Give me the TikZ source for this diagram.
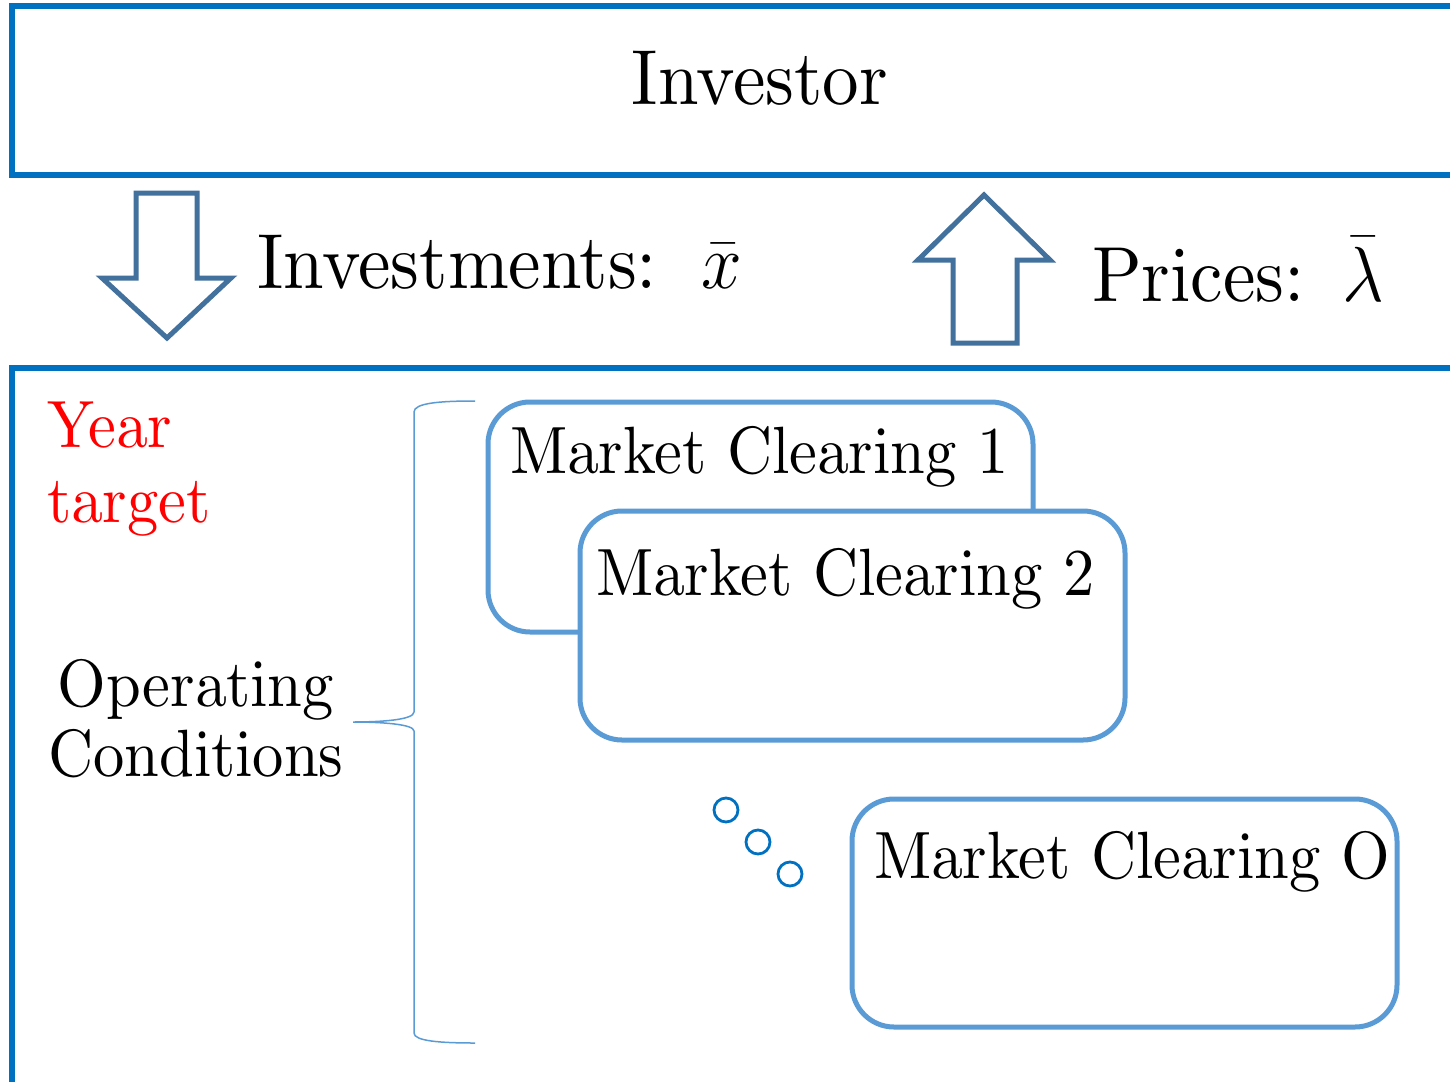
\RequirePackage{fix-cm}
\documentclass[tikz,border=0pt]{standalone}
\definecolor{frameblue}{HTML}{0070C0}
\definecolor{arrowblue}{HTML}{41719C}
\definecolor{boxblue}{HTML}{5B9BD5}
\definecolor{yearred}{HTML}{FF0000}
\DeclareFontFamily{OT1}{cmrten}{}
\DeclareFontShape{OT1}{cmrten}{m}{n}{<->cmr10}{}
\newcommand\tenrm{\fontencoding{OT1}\fontfamily{cmrten}\selectfont}
\newcommand\vst[1]{\scalebox{1}[1.07]{#1}}
\begin{document}
\begin{tikzpicture}[x=1pt,y=-1pt,
  frame/.style={draw=frameblue, line width=5.5pt},
  bigarrow/.style={draw=arrowblue, line width=5pt, fill=white, line join=miter},
  mcbox/.style={draw=boxblue, line width=5pt, rounded corners=42pt, fill=white},
  bracepath/.style={draw=boxblue, line width=1.5pt},
  dot/.style={circle, draw=frameblue, line width=2.8pt, minimum size=24pt, inner sep=0pt},
  bigtext/.style={font=\fontsize{73}{80}\tenrm, inner sep=0pt, anchor=base west},
  midtext/.style={font=\fontsize{62.5}{72}\tenrm, inner sep=0pt, anchor=base west},
]
\clip (0,0) rectangle (1450,1081);
\fill[white] (0,0) rectangle (1450,1081);
% top frame
\draw[frame] (1470,6) -- (12,6) -- (12,175) -- (1470,175);
\node[bigtext, anchor=base] (investor) at (760,104) {\vst{Investor}};
% arrows
\draw[bigarrow] (136,193) -- (197,193) -- (197,278) -- (231,278) -- (167,338) -- (102,278) -- (136,278) -- cycle;
\node[bigtext] (investments) at (257,288) {\vst{Investments:\hspace{0.6em}$\bar{x}$}};
\draw[bigarrow] (953,343) -- (1017,343) -- (1017,260) -- (1050,260) -- (984,195) -- (918,260) -- (953,260) -- cycle;
\node[bigtext] (prices) at (1092,301) {\vst{Prices:\hspace{0.52em}$\bar{\lambda}$}};
% bottom frame
\draw[frame] (1470,368) -- (12,368) -- (12,1100);
% left labels
\node[midtext, text=yearred] (year) at (47,447) {\vst{Year}};
\node[midtext, text=yearred] (target) at (47,522) {\vst{target}};
\node[midtext, anchor=base] (operating) at (196,706) {\vst{Operating}};
\node[midtext, anchor=base] (conditions) at (196,776) {\vst{Conditions}};
% brace
\draw[bracepath] (475,401) .. controls (440,401) and (414,403) .. (414,412) -- (414,712)
  .. controls (414,720) and (380,722) .. (353,722)
  .. controls (380,722) and (414,724) .. (414,731) -- (414,1033)
  .. controls (414,1041) and (440,1043) .. (475,1043);
% market clearing boxes
\draw[mcbox] (488,402) rectangle (1033,632);
\node[midtext] (mc1) at (510,473) {\vst{Market Clearing 1}};
\draw[mcbox] (580,511) rectangle (1125,740);
\node[midtext] (mc2) at (596,595) {\vst{Market Clearing 2}};
\draw[mcbox] (852,799) rectangle (1397,1027);
\node[midtext] (mco) at (874,878) {\vst{Market Clearing O}};
% dots
\node[dot] (d1) at (726,810) {};
\node[dot] (d2) at (758,842) {};
\node[dot] (d3) at (790,874) {};
\end{tikzpicture}
\end{document}
